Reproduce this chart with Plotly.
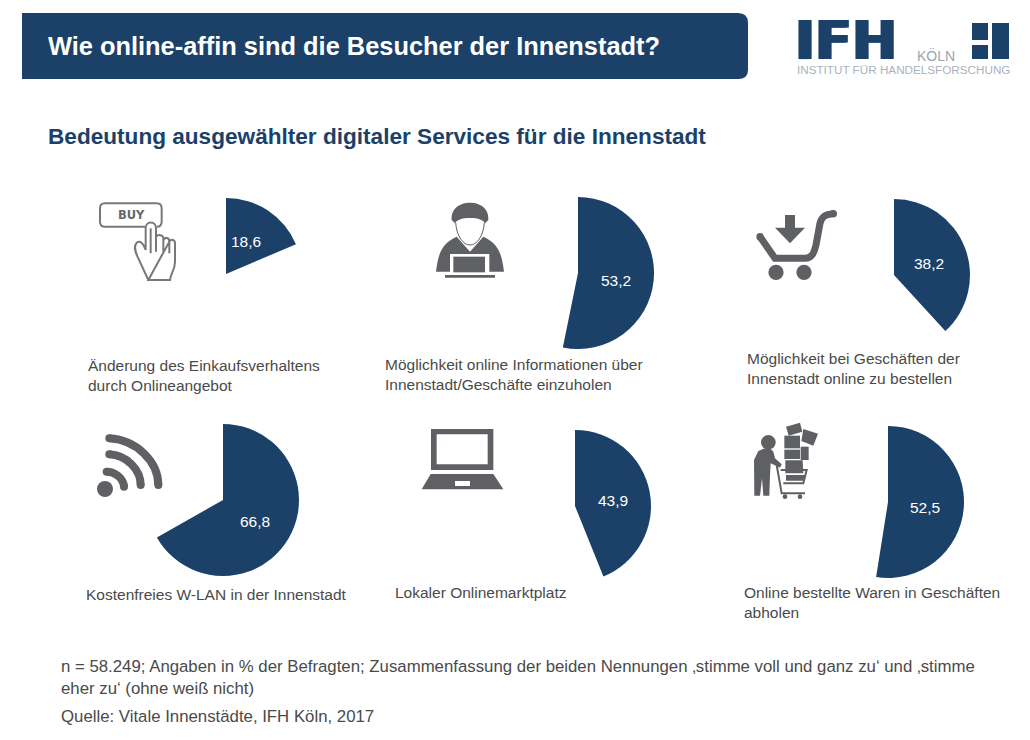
import plotly.graph_objects as go

####################################### DATA
services = [
    "Änderung des Einkaufsverhaltens<br>durch Onlineangebot",
    "Möglichkeit online Informationen über<br>Innenstadt/Geschäfte einzuholen",
    "Möglichkeit bei Geschäften der<br>Innenstadt online zu bestellen",
    "Kostenfreies W-LAN in der Innenstadt",
    "Lokaler Onlinemarktplatz",
    "Online bestellte Waren in Geschäften<br>abholen",
]
shares = [18.6, 53.2, 38.2, 66.8, 43.9, 52.5]

# pixel layout of the picture
pie_centers = [(226, 274), (578, 273), (894, 275), (223, 500), (575, 506), (888, 502)]
pie_radius = 76
value_pos = [(246, 241), (616, 280), (929, 263), (255, 521), (613, 500), (925, 507)]
label_pos = [(88, 375), (385, 374), (747, 368), (86, 594), (395, 592), (744, 602)]

W, H = 1030, 740
NAVY = "#1b4169"
GREY = "#5f6064"
TEXT = "#4a4a4a"
FONT = "Liberation Sans"

fig = go.Figure()

# Pies: one navy slice, the rest see-through
for value, (cx, cy) in zip(shares, pie_centers):
    fig.add_trace(go.Pie(
        values=[value, 100 - value],
        sort=False,
        direction="clockwise",
        rotation=0,
        textinfo="none",
        hoverinfo="skip",
        showlegend=False,
        marker=dict(colors=[NAVY, "rgba(0,0,0,0)"], line=dict(width=0)),
        domain=dict(
            x=[(cx - pie_radius) / W, (cx + pie_radius) / W],
            y=[1 - (cy + pie_radius) / H, 1 - (cy - pie_radius) / H],
        ),
    ))


####################################### ICON HELPERS
def zp(ox, oy, path):
    # path is written in 3x crop coordinates, turn it into picture pixels
    out = []
    is_x = True
    for tok in path.split():
        if tok.isalpha():
            out.append(tok)
        else:
            v = float(tok) / 3 + (ox if is_x else oy)
            out.append(f"{v:.2f}")
            is_x = not is_x
    return " ".join(out)


shapes = []


def fill(ox, oy, path, color=GREY):
    shapes.append(dict(type="path", xref="x", yref="y", path=zp(ox, oy, path),
                       fillcolor=color, line=dict(width=0), layer="above"))


def stroke(ox, oy, path, width, color=GREY):
    shapes.append(dict(type="path", xref="x", yref="y", path=zp(ox, oy, path),
                       fillcolor="rgba(0,0,0,0)", line=dict(color=color, width=width), layer="above"))


def dot(ox, oy, x, y, r, color=GREY):
    x0, y0 = ox + (x - r) / 3, oy + (y - r) / 3
    x1, y1 = ox + (x + r) / 3, oy + (y + r) / 3
    shapes.append(dict(type="circle", xref="x", yref="y", x0=x0, x1=x1, y0=y0, y1=y1,
                       fillcolor=color, line=dict(width=0), layer="above"))


def box(x0, y0, x1, y1, color):
    shapes.append(dict(type="rect", xref="x", yref="y", x0=x0, x1=x1, y0=y0, y1=y1,
                       fillcolor=color, line=dict(width=0), layer="above"))


####################################### HEADER
# Banner, square on the left and rounded on the right
shapes.append(dict(type="path", xref="x", yref="y", fillcolor=NAVY, line=dict(width=0), layer="below",
                   path="M 22 13 L 738 13 Q 748 13 748 23 L 748 70 Q 748 79 738 79 L 22 79 Z"))

# Logo mark
box(972, 23, 988, 40, NAVY)
box(972, 45, 988, 59, NAVY)
box(992, 23, 1009, 59, NAVY)

####################################### ICONS
# Buy button with hand
c = "#77787b"
stroke(80, 190, "M 195 110 L 75 110 C 65 110 60 105 60 95 L 60 55 C 60 45 65 40 75 40 L 230 40 "
                "C 240 40 245 45 245 55 L 245 95 C 245 105 240 110 230 110", 2, c)
stroke(80, 190, "M 205 270 L 175 205 C 165 185 160 170 170 158 C 180 150 190 160 197 180 L 197 115 "
                "C 197 92 228 92 228 115 L 228 185 M 228 140 C 235 132 250 135 250 145 L 250 190 "
                "M 250 150 C 255 140 268 142 268 155 L 268 190 M 268 155 C 275 145 285 150 285 160 "
                "L 285 215 C 285 240 272 250 270 270 L 205 270 Z M 212 115 L 212 190", 2, c)

# Person at a laptop
fill(420, 190, "M 95 90 C 92 55 120 38 150 38 C 180 38 208 55 205 90 L 195 100 "
               "C 190 90 175 84 150 84 C 125 84 110 90 105 100 Z")
stroke(420, 190, "M 107 98 C 110 140 130 165 150 165 C 170 165 190 140 193 98", 1)
fill(420, 190, "M 48 245 C 55 190 65 160 110 140 L 150 185 L 190 140 C 235 160 245 190 252 245 "
               "L 208 245 L 208 192 L 90 192 L 90 245 Z")
fill(420, 190, "M 100 200 L 195 200 L 195 247 L 100 247 Z")
fill(420, 190, "M 75 255 L 225 255 L 225 263 L 75 263 Z")

# Shopping cart
stroke(740, 195, "M 60 125 L 105 190 L 195 190 C 215 190 222 175 228 150 L 240 85 C 245 65 255 58 280 56", 7)
dot(740, 195, 60, 125, 11)
dot(740, 195, 280, 56, 11)
fill(740, 195, "M 135 60 L 165 60 L 165 98 L 195 98 L 150 145 L 105 98 L 135 98 Z")
dot(740, 195, 108, 232, 23)
dot(740, 195, 192, 232, 23)

# Wifi
dot(80, 420, 75, 207, 24)
stroke(80, 420, "M 88 55 C 170 60 235 125 235 195", 8)
stroke(80, 420, "M 88 103 C 140 105 182 150 182 195", 8)
stroke(80, 420, "M 80 155 C 105 155 130 175 132 200", 8)
for x, y in [(88, 55), (235, 195), (88, 103), (182, 195), (80, 155), (132, 200)]:
    dot(80, 420, x, y, 12)

# Laptop
fill(410, 420, "M 63 27 L 250 27 L 250 150 L 63 150 Z")
fill(410, 420, "M 80 43 L 233 43 L 233 133 L 80 133 Z", "#ffffff")
fill(410, 420, "M 62 162 L 250 162 L 280 208 L 35 208 Z")
fill(410, 420, "M 135 183 L 180 183 L 180 198 L 135 198 Z", "#ffffff")

# Man with loaded trolley
dot(740, 415, 85, 82, 22)
fill(740, 415, "M 55 108 C 75 96 92 98 100 110 L 105 130 L 125 148 L 120 158 L 92 145 L 90 180 L 88 242 "
               "L 70 242 L 66 190 L 60 242 L 43 242 L 42 135 Z")
stroke(740, 415, "M 110 150 L 125 235 L 195 235", 2)
stroke(740, 415, "M 122 165 L 200 165 L 190 205 L 130 205", 2)
dot(740, 415, 135, 245, 7)
dot(740, 415, 180, 245, 7)
fill(740, 415, "M 133 62 L 180 62 L 180 100 L 133 100 Z")
fill(740, 415, "M 133 104 L 180 104 L 180 132 L 133 132 Z")
fill(740, 415, "M 136 136 L 188 136 L 190 175 L 136 175 Z")
fill(740, 415, "M 138 35 L 180 23 L 187 50 L 146 62 Z")
fill(740, 415, "M 190 42 L 234 56 L 220 92 L 184 78 Z")
fill(740, 415, "M 182 95 L 206 95 L 206 135 L 182 135 Z")
fill(740, 415, "M 138 180 L 196 180 L 190 197 L 138 197 Z")

####################################### TEXT
annotations = []


def label(x, y, text, size, color=TEXT, bold=False, family=FONT, anchor="left", shadow=None):
    if bold:
        text = f"<b>{text}</b>"
    font = dict(family=family, size=size, color=color)
    if shadow:
        font["shadow"] = shadow
    annotations.append(dict(x=x, y=y, xref="x", yref="y", text=text, showarrow=False,
                            xanchor=anchor, yanchor="middle", align="left",
                            borderpad=0, borderwidth=0, font=font))


label(48, 46, "Wie online-affin sind die Besucher der Innenstadt?", 25.4, "#ffffff", True)
label(48, 136, "Bedeutung ausgewählter digitaler Services für die Innenstadt", 22.6, NAVY, True)

label(795, 40, "IFH", 54, NAVY, True, "DejaVu Sans", shadow="1.5px 0 0 #1b4169, -1.5px 0 0 #1b4169")
label(917, 55, "KÖLN", 14, "#9aa5b1")
label(797, 69, "INSTITUT FÜR HANDELSFORSCHUNG", 11.7, "#a9b3bd")

label(131, 215, "BUY", 11.5, "#66676a", True, "DejaVu Sans", "center")

for value, (x, y) in zip(shares, value_pos):
    label(x, y, f"{value:.1f}".replace(".", ","), 15.5, "#ffffff", anchor="center")

for text, (x, y) in zip(services, label_pos):
    label(x, y, text, 15.5)

label(61, 677, "n = 58.249; Angaben in % der Befragten; Zusammenfassung der beiden Nennungen ‚stimme voll und ganz zu‘ und ‚stimme<br>"
               "eher zu‘ (ohne weiß nicht)", 16.8)
label(61, 716, "Quelle: Vitale Innenstädte, IFH Köln, 2017", 16.8)

####################################### LAYOUT
fig.update_layout(
    width=W,
    height=H,
    margin=dict(l=0, r=0, t=0, b=0),
    paper_bgcolor="#ffffff",
    plot_bgcolor="#ffffff",
    xaxis=dict(range=[0, W], visible=False, fixedrange=True, domain=[0, 1]),
    yaxis=dict(range=[H, 0], visible=False, fixedrange=True, domain=[0, 1]),
    shapes=shapes,
    annotations=annotations,
)
# invisible trace so the pixel axes exist next to the pies
fig.add_trace(go.Scatter(x=[0, W], y=[0, H], mode="markers", marker=dict(opacity=0),
                         hoverinfo="skip", showlegend=False))

fig.write_html("out.html", config={"displayModeBar": False}, post_script="document.body.style.margin='0';")
